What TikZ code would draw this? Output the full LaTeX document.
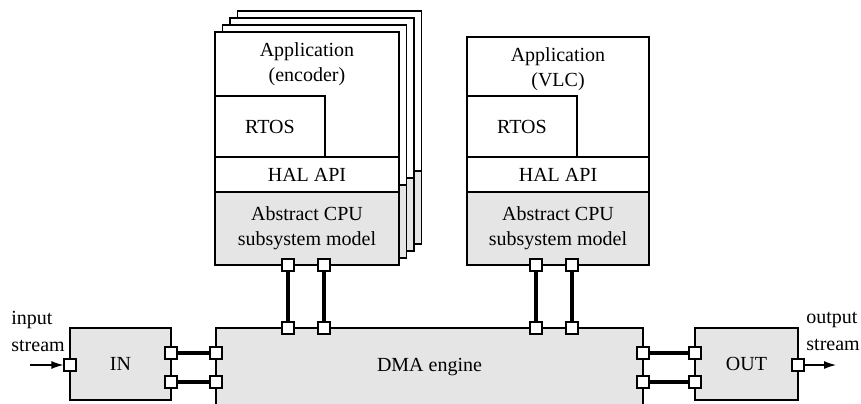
\documentclass[tikz,border=0pt]{standalone}
\usepackage{fontspec}
\setmainfont{Liberation Serif}
\usetikzlibrary{arrows.meta, positioning}

\tikzset{
  blk/.style={draw, line width=0.6pt, fill=white, inner sep=0pt, font=\fontsize{10}{12.5}\selectfont},
  gry/.style={blk, fill=gray!20},
  port/.style={draw, line width=0.6pt, fill=white, minimum size=6pt, inner sep=0pt},
  bus/.style={line width=2pt},
  txt/.style={inner sep=0pt, align=center, font=\fontsize{10}{12.5}\selectfont},
}

\begin{document}
\begin{tikzpicture}[x=0.5pt, y=-0.5pt]
\useasboundingbox (0,0) rectangle (861,403);
\clip (0,0) rectangle (861,403);

% copies of the encoder CPU behind the front one
\foreach \k in {3,2,1} {
  \begin{scope}[shift={(7.5*\k,-7*\k)}]
    \filldraw[line width=0.6pt, fill=white] (215,32) rectangle (399,192);
    \filldraw[line width=0.6pt, fill=gray!20] (215,192) rectangle (399,265);
  \end{scope}
}

% encoder CPU
\node[blk, minimum width=92pt, minimum height=62.5pt] (app1) at (307,94.5) {};
\node[txt] (app1t) at (307,64) {Application\\(encoder)};
\node[blk, minimum width=55pt, minimum height=30.5pt] (rtos1) at (270,126.5) {RTOS};
\node[blk, minimum width=92pt, minimum height=17.5pt] (hal1) at (307,174.5) {HAL API};
\node[gry, minimum width=92pt, minimum height=36.5pt, align=center] (cpu1) at (307,228.5) {Abstract CPU\\subsystem model};

% VLC CPU
\node[blk, minimum width=91pt, minimum height=60pt] (app2) at (558,97) {};
\node[txt] (app2t) at (558,69.5) {Application\\(VLC)};
\node[blk, minimum width=55pt, minimum height=30.5pt] (rtos2) at (522,126.5) {RTOS};
\node[blk, minimum width=91pt, minimum height=17.5pt] (hal2) at (558,174.5) {HAL API};
\node[gry, minimum width=91pt, minimum height=36.5pt, align=center] (cpu2) at (558,228.5) {Abstract CPU\\subsystem model};

% DMA, IN, OUT
\node[gry, minimum width=213.5pt, minimum height=39pt] (dma) at (429.5,367) {DMA engine};
\node[gry, minimum width=50.5pt, minimum height=36pt] (in) at (120.5,364) {IN};
\node[gry, minimum width=51.5pt, minimum height=36pt] (out) at (746.5,364) {OUT};

% ports
\foreach \n/\x in {a/288,b/324} {
  \node[port] (c1\n) at (\x,265) {};
  \node[port] (d1\n) at (\x,328) {};
}
\foreach \n/\x in {a/536,b/572} {
  \node[port] (c2\n) at (\x,265) {};
  \node[port] (d2\n) at (\x,328) {};
}
\foreach \n/\y in {a/353,b/382} {
  \node[port] (inp\n) at (171,\y) {};
  \node[port] (dl\n) at (216,\y) {};
  \node[port] (dr\n) at (643,\y) {};
  \node[port] (outp\n) at (695,\y) {};
}
\node[port] (inw) at (70,365) {};
\node[port] (oute) at (798,365) {};

% buses
\foreach \n in {a,b} {
  \draw[bus] (c1\n) -- (d1\n);
  \draw[bus] (c2\n) -- (d2\n);
  \draw[bus] (inp\n) -- (dl\n);
  \draw[bus] (dr\n) -- (outp\n);
}

% streams
\coordinate (src) at (30,365);
\coordinate (snk) at (836,365);
\draw[line width=0.6pt, -{Latex[length=6pt, width=4pt]}] (src) -- (inw);
\draw[line width=0.6pt, -{Latex[length=6pt, width=4pt]}] (oute) -- (snk);
\node[txt, align=left, anchor=west, font=\fontsize{10}{13.5}\selectfont] (inlbl) at (11,331) {input\\stream};
\node[txt, align=left, anchor=west, font=\fontsize{10}{13.5}\selectfont] (outlbl) at (806,331) {output\\stream};
\end{tikzpicture}
\end{document}
